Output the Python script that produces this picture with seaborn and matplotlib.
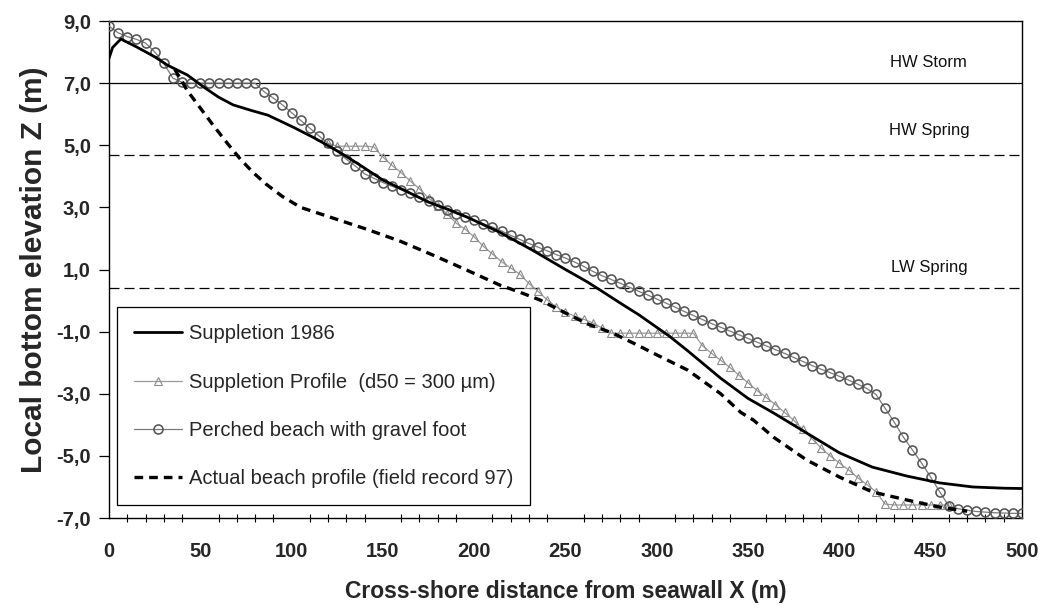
import matplotlib
matplotlib.use("Agg")
import matplotlib.pyplot as plt
import seaborn as sns
from matplotlib.ticker import FixedLocator, MultipleLocator

# ---------------- data ----------------
supp1986_x = [0, 2, 6.5, 15, 25, 32, 43, 52, 60, 68, 78, 87, 101, 112, 119, 127, 137,
              150, 160, 175, 186, 196, 214, 232, 250, 262, 270, 280, 290, 298, 307, 317,
              335, 350, 364, 382, 400, 418, 437, 455, 473, 490, 500]
supp1986_z = [7.8, 8.15, 8.42, 8.17, 7.85, 7.58, 7.26, 6.87, 6.55, 6.3, 6.12, 5.97, 5.58,
              5.25, 5.02, 4.75, 4.38, 3.88, 3.6, 3.17, 2.93, 2.69, 2.2, 1.62, 1.0, 0.6,
              0.3, -0.08, -0.45, -0.78, -1.15, -1.62, -2.5, -3.15, -3.62, -4.26, -4.9,
              -5.36, -5.65, -5.87, -6.0, -6.04, -6.05]

profile_x = list(range(120, 465, 5))
profile_z = [5.06, 4.97, 4.97, 4.97, 4.97, 4.95,
             4.62, 4.35, 4.12, 3.85, 3.6, 3.3, 3.05, 2.8, 2.5, 2.3, 2.05, 1.75, 1.5,
             1.25, 1.05, 0.85, 0.55, 0.3, 0.02, -0.2, -0.38, -0.5, -0.6, -0.72, -0.88,
             -1.05,
             -1.05, -1.05, -1.05, -1.05, -1.05, -1.05, -1.05, -1.05, -1.05,
             -1.45, -1.7, -1.92, -2.15, -2.4, -2.65, -2.9, -3.12, -3.35, -3.6, -3.85,
             -4.15, -4.45, -4.75, -5.0, -5.23, -5.45, -5.7, -5.92, -6.15, -6.55,
             -6.58, -6.58, -6.58, -6.58, -6.58, -6.58, -6.58]

perched_x = list(range(0, 505, 5))
perched_z = [8.84, 8.62, 8.50, 8.41, 8.29, 8.01, 7.64, 7.16, 7.03,
             7.0, 7.0, 7.0, 7.0, 7.0, 7.0, 7.0, 7.0,
             6.72, 6.52, 6.30, 6.05, 5.80, 5.55, 5.30, 5.06, 4.80, 4.55, 4.33, 4.08,
             3.94, 3.80, 3.68, 3.57, 3.46, 3.33, 3.20, 3.07, 2.93, 2.80, 2.70, 2.58,
             2.47, 2.37, 2.24, 2.10, 1.97, 1.84, 1.72, 1.60, 1.48, 1.37, 1.24, 1.10,
             0.94, 0.80, 0.68, 0.56, 0.43, 0.30, 0.18, 0.05, -0.08, -0.21, -0.35,
             -0.48, -0.61, -0.74, -0.86, -0.98, -1.10, -1.22, -1.34, -1.46, -1.58,
             -1.70, -1.83, -1.96, -2.09, -2.21, -2.32, -2.44, -2.56, -2.69, -2.83,
             -3.02, -3.46, -3.91, -4.39, -4.81, -5.23, -5.68, -6.16, -6.62, -6.70,
             -6.75, -6.79, -6.81, -6.83, -6.84, -6.85, -6.85]

actual_x = [36, 43, 50, 57, 65, 72, 79, 86, 95, 105, 123, 141, 160, 178, 196, 214, 225,
            236, 250, 262, 276, 290, 298, 317, 335, 346, 353, 364, 382, 400, 418, 437,
            455, 470]
actual_z = [7.45, 6.75, 6.2, 5.65, 5.05, 4.55, 4.12, 3.75, 3.35, 3.0, 2.65, 2.3, 1.9,
            1.45, 0.98, 0.5, 0.27, 0.02, -0.4, -0.75, -1.05, -1.45, -1.69, -2.24, -3.0,
            -3.6, -3.85, -4.4, -5.13, -5.68, -6.16, -6.42, -6.65, -6.78]

series_labels = ["Suppletion 1986",
                 "Suppletion Profile  (d50 = 300 \u00b5m)",
                 "Perched beach with gravel foot",
                 "Actual beach profile (field record 97)"]

water_levels = [7.0, 4.7, 0.4]
water_labels = ["HW Storm", "HW Spring", "LW Spring"]

y_ticks = [9, 7, 5, 3, 1, -1, -3, -5, -7]
y_tick_labels = ["9,0", "7,0", "5,0", "3,0", "1,0", "-1,0", "-3,0", "-5,0", "-7,0"]
x_ticks = [0, 50, 100, 150, 200, 250, 300, 350, 400, 450, 500]

x_label = "Cross-shore distance from seawall X (m)"
y_label = "Local bottom elevation Z (m)"

# ---------------- style ----------------
sns.set_theme(style="white")
plt.rcParams['font.family'] = ['Liberation Sans', 'DejaVu Sans']

fig = plt.figure(figsize=(10.44, 6.08), dpi=100)
ax = fig.add_axes([0.1044, 0.148, 0.8745, 0.8174])

# water level lines
for lvl, ls in zip(water_levels, ["-", (0, (8, 4)), (0, (8, 4))]):
    ax.axhline(lvl, color="black", lw=0.9, linestyle=ls, zorder=1)

for lvl, lab, off in zip(water_levels, water_labels, [0.68, 0.78, 0.66]):
    ax.text(449, lvl + off, lab, ha="center", va="center",
            fontsize=12, color="#111111")

# series
sns.lineplot(x=supp1986_x, y=supp1986_z, ax=ax, color="black", linewidth=2.0,
             sort=False, estimator=None, label=series_labels[0], zorder=4)
sns.lineplot(x=profile_x, y=profile_z, ax=ax, color="#9a9a9a", linewidth=0.9,
             marker="^", markersize=5.5, markerfacecolor="none",
             markeredgecolor="#8a8a8a", markeredgewidth=0.8,
             sort=False, estimator=None, label=series_labels[1], zorder=2)
sns.lineplot(x=perched_x, y=perched_z, ax=ax, color="#7a7a7a", linewidth=0.9,
             marker="o", markersize=6.5, markerfacecolor="none",
             markeredgecolor="#555555", markeredgewidth=1.15,
             sort=False, estimator=None, label=series_labels[2], zorder=3)
sns.lineplot(x=actual_x, y=actual_z, ax=ax, color="black", linewidth=2.4,
             sort=False, estimator=None, label=series_labels[3], zorder=5)
ax.lines[-1].set_dashes([2.6, 1.8])

# axes
ax.set_xlim(0, 500)
ax.set_ylim(-7, 9)
ax.xaxis.set_major_locator(FixedLocator(x_ticks))
ax.xaxis.set_minor_locator(MultipleLocator(10))
ax.yaxis.set_major_locator(FixedLocator(y_ticks))
ax.set_yticklabels(y_tick_labels)
ax.tick_params(axis="x", which="major", direction="inout", length=10, width=0.9,
               color="black", labelsize=14.5, pad=12)
ax.tick_params(axis="x", which="minor", direction="inout", length=6, width=0.8,
               color="black", bottom=True)
ax.tick_params(axis="y", which="major", direction="out", length=7, width=0.9,
               color="black", labelsize=14.5, pad=6, left=True)
for lab in ax.get_xticklabels() + ax.get_yticklabels():
    lab.set_fontweight("bold")

for sp in ax.spines.values():
    sp.set_color("black")
    sp.set_linewidth(1.0)

ax.set_xlabel(x_label, fontsize=16.5, fontweight="bold", labelpad=14)
ax.set_ylabel(y_label, fontsize=21.5, fontweight="bold", labelpad=6)

handles = ax.lines[-4:]
leg = ax.legend(handles, series_labels, loc="lower left",
                bbox_to_anchor=(0.0088, 0.026), borderaxespad=0,
                fontsize=14.5, frameon=True, fancybox=False, framealpha=1,
                edgecolor="black", handlelength=2.4, handletextpad=0.3,
                labelspacing=1.45, borderpad=0.85, numpoints=1)
leg.get_frame().set_linewidth(0.9)
leg.set_zorder(6)

fig.savefig("out.png", dpi=100, facecolor="white")
